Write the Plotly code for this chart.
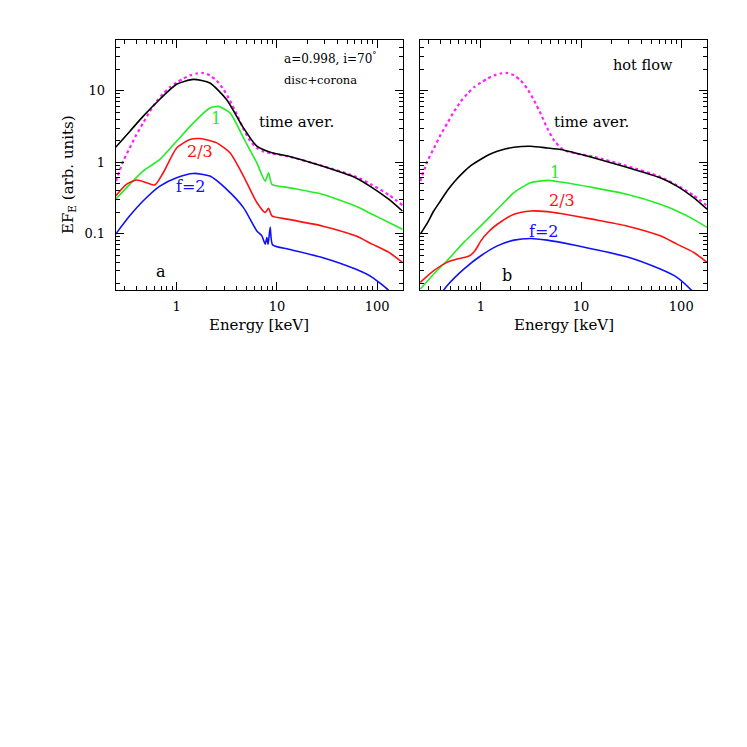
import plotly.graph_objects as go

# ---- panel a: disc+corona ----
a_black_e = [0.247, 0.341, 0.463, 0.681, 1.0, 1.47, 2.15, 3.16, 4.64, 6.31, 8.91, 13.1, 28.2, 60.7, 89.1, 131, 178]
a_black_f = [1.62, 2.69, 4.37, 7.6, 12.3, 14.4, 12.8, 7.48, 3.02, 1.67, 1.35, 1.21, 0.88, 0.605, 0.44, 0.30, 0.207]

a_green_e = [0.247, 0.341, 0.463, 0.681, 1.0, 1.47, 2.15, 2.61, 3.41, 4.64, 6.31, 7.64, 8.26, 8.91, 13.1, 28.2, 60.7, 89.1, 131, 178]
a_green_f = [0.302, 0.489, 0.75, 1.09, 1.96, 3.55, 5.73, 6.03, 4.9, 2.19, 0.977, 0.543, 0.711, 0.489, 0.44, 0.355, 0.243, 0.186, 0.143, 0.115]

a_red_e = [0.247, 0.316, 0.398, 0.501, 0.607, 0.736, 1.0, 1.36, 1.71, 2.51, 3.41, 4.64, 6.31, 7.64, 8.26, 8.91, 13.1, 28.2, 60.7, 89.1, 131, 178]
a_red_f = [0.336, 0.489, 0.562, 0.516, 0.479, 0.711, 1.58, 2.07, 2.14, 1.86, 1.35, 0.638, 0.272, 0.197, 0.226, 0.177, 0.158, 0.128, 0.0929, 0.0711, 0.0545, 0.0395]

a_blue_e = [0.247, 0.341, 0.463, 0.681, 1.0, 1.47, 2.15, 3.16, 4.64, 6.31, 7.08, 7.64, 7.94, 8.17, 8.57, 9.06, 13.1, 28.2, 60.7, 89.1, 131, 178]
a_blue_f = [0.0982, 0.177, 0.286, 0.462, 0.605, 0.695, 0.638, 0.416, 0.231, 0.109, 0.0929, 0.0711, 0.0881, 0.0708, 0.122, 0.0695, 0.0605, 0.0463, 0.0318, 0.0244, 0.0158, 0.0089]

# ---- magenta dotted reference (both panels) ----
ref_e = [0.249, 0.293, 0.341, 0.398, 0.465, 0.541, 0.631, 0.736, 0.857, 1.0, 1.17, 1.36, 1.58, 1.84, 2.15, 2.51, 2.93, 3.41, 3.98, 4.62, 5.41, 6.31, 7.36, 8.91, 13.1, 28.2, 60.7, 89.1, 131, 178]
ref_f = [0.543, 1.03, 1.58, 2.43, 3.55, 5.13, 7.08, 9.12, 11.2, 13.0, 14.8, 16.4, 17.4, 17.7, 16.4, 13.8, 10.5, 7.24, 4.68, 2.95, 1.99, 1.58, 1.41, 1.32, 1.20, 0.89, 0.63, 0.48, 0.347, 0.25]

# ---- panel b: hot flow ----
b_black_e = [0.249, 0.296, 0.339, 0.398, 0.46, 0.55, 0.676, 0.8, 1.0, 1.2, 1.46, 1.78, 2.14, 3.14, 4.6, 6.27, 13.3, 28.6, 61.7, 90.6, 133, 181]
b_black_f = [0.0982, 0.145, 0.207, 0.29, 0.394, 0.54, 0.73, 0.9, 1.1, 1.27, 1.42, 1.54, 1.62, 1.67, 1.58, 1.50, 1.15, 0.85, 0.605, 0.462, 0.318, 0.219]

b_green_e = [0.249, 0.339, 0.46, 0.676, 1.0, 1.46, 2.14, 3.14, 4.6, 6.27, 13.3, 28.6, 61.7, 90.6, 133, 181]
b_green_f = [0.0167, 0.0272, 0.0417, 0.0752, 0.128, 0.219, 0.374, 0.516, 0.556, 0.526, 0.44, 0.355, 0.257, 0.207, 0.158, 0.122]

b_red_e = [0.249, 0.339, 0.46, 0.579, 0.70, 0.79, 0.87, 0.93, 1.0, 1.2, 1.46, 2.14, 3.14, 4.6, 6.27, 13.3, 28.6, 61.7, 90.6, 133, 181]
b_red_f = [0.0208, 0.0302, 0.0395, 0.044, 0.0465, 0.050, 0.057, 0.066, 0.0791, 0.107, 0.135, 0.186, 0.207, 0.203, 0.191, 0.158, 0.128, 0.0929, 0.0711, 0.0545, 0.0395]

b_blue_e = [0.398, 0.46, 0.676, 1.0, 1.46, 2.14, 3.14, 4.6, 6.27, 13.3, 28.6, 61.7, 90.6, 128, 181]
b_blue_f = [0.0141, 0.0186, 0.0318, 0.0489, 0.0673, 0.0809, 0.0853, 0.0809, 0.0752, 0.0605, 0.0473, 0.0318, 0.0244, 0.0158, 0.0089]

x_ticks = [1, 10, 100]
x_tick_text = ['1', '10', '100']
y_ticks = [0.1, 1, 10]
y_tick_text = ['0.1', '1', '10']

BLACK = '#000000'
GREEN = '#22ee22'
RED = '#ff1010'
BLUE = '#1010ff'
MAGENTA = '#ff22ff'
FONT = 'DejaVu Serif'

fig = go.Figure()


def add_curve(e, f, color, axis, dotted=False):
    fig.add_trace(go.Scatter(
        x=e, y=f, mode='lines', xaxis='x' + axis, yaxis='y' + axis,
        line=dict(color=color, width=2.2 if dotted else 1.6, dash='dot' if dotted else 'solid',
                  shape='spline', smoothing=0.6),
        hoverinfo='skip'))


add_curve(ref_e, ref_f, MAGENTA, '', dotted=True)
add_curve(a_black_e, a_black_f, BLACK, '')
add_curve(a_green_e, a_green_f, GREEN, '')
add_curve(a_red_e, a_red_f, RED, '')
add_curve(a_blue_e, a_blue_f, BLUE, '')

add_curve(ref_e, ref_f, MAGENTA, '2', dotted=True)
add_curve(b_black_e, b_black_f, BLACK, '2')
add_curve(b_green_e, b_green_f, GREEN, '2')
add_curve(b_red_e, b_red_f, RED, '2')
add_curve(b_blue_e, b_blue_f, BLUE, '2')

# minor tick positions
x_minor = [m * d for d in (0.1, 1, 10, 100) for m in range(2, 10)]
y_minor = [m * d for d in (0.01, 0.1, 1, 10) for m in range(2, 10)]

W = 747.0
OFF = 8  # page body margin


def px(v):
    return (v - OFF) / W


def py(v):
    return 1 - (v - OFF) / W


xa_dom = [px(115.7), px(403)]
xb_dom = [px(420), px(707)]
y_dom = [py(290), py(40)]

axis_common = dict(type='log', showline=True, linecolor='black', linewidth=1, mirror='allticks',
                   ticks='inside', ticklen=8, tickwidth=1, tickcolor='black', showgrid=False,
                   zeroline=False, tickfont=dict(family=FONT, size=13, color='black'))

x_common = dict(axis_common, range=[-0.607, 2.257], tickmode='array', tickvals=x_ticks,
                ticktext=x_tick_text, ticklabelstandoff=4,
                minor=dict(tickmode='array', tickvals=x_minor, ticks='inside', ticklen=4, tickcolor='black'))
y_common = dict(axis_common, range=[-1.79, 1.71], tickmode='array', tickvals=y_ticks,
                ticktext=y_tick_text, ticklabelstandoff=7,
                minor=dict(tickmode='array', tickvals=y_minor, ticks='inside', ticklen=4, tickcolor='black'))

fig.update_layout(
    width=747, height=747, margin=dict(l=0, r=0, t=0, b=0),
    paper_bgcolor='white', plot_bgcolor='white', showlegend=False,
    xaxis=dict(x_common, domain=xa_dom, anchor='y'),
    yaxis=dict(y_common, domain=y_dom, anchor='x'),
    xaxis2=dict(x_common, domain=xb_dom, anchor='y2'),
    yaxis2=dict(y_common, domain=y_dom, anchor='x2', showticklabels=False),
)


def note(text, x, y, axis='', size=13, color='black', xanchor='center'):
    fig.add_annotation(text=text, x=x, y=y, xref='x' + axis, yref='y' + axis, showarrow=False,
                       xanchor=xanchor, yanchor='middle',
                       font=dict(family=FONT, size=size, color=color))


# panel a labels (positions in log10 axis units)
note('a=0.998, i=70<sup>°</sup>', 1.05, 1.456, size=12, xanchor='left')
note('disc+corona', 1.05, 1.144, size=11.5, xanchor='left')
note('time aver.', 0.8, 0.558, size=15, xanchor='left')
note('1', 0.393, 0.61, size=16, color=GREEN)
note('2/3', 0.233, 0.153, size=16, color=RED)
note('f=2', 0.143, -0.335, size=16, color=BLUE)
note('a', -0.157, -1.534, size=16)

# panel b labels
note('hot flow', 1.62, 1.363, axis='2', size=14.5)
note('time aver.', 0.707, 0.558, axis='2', size=15, xanchor='left')
note('1', 0.74, -0.148, axis='2', size=16, color=GREEN)
note('2/3', 0.81, -0.544, axis='2', size=16, color=RED)
note('f=2', 0.63, -0.976, axis='2', size=16, color=BLUE)
note('b', 0.257, -1.59, axis='2', size=16)

# axis titles
for xc in ((115.7 + 403) / 2, (420 + 707) / 2):
    fig.add_annotation(text='Energy [keV]', x=px(xc), y=py(325), xref='paper', yref='paper',
                       xanchor='center', yanchor='middle', showarrow=False,
                       font=dict(family=FONT, size=15, color='black'))
fig.add_annotation(text='EF<sub>E</sub> (arb. units)', x=px(68), y=py(175), xref='paper',
                   yref='paper', xanchor='center', yanchor='middle', showarrow=False, textangle=-90,
                   font=dict(family=FONT, size=15, color='black'))

fig.write_html("out.html")
